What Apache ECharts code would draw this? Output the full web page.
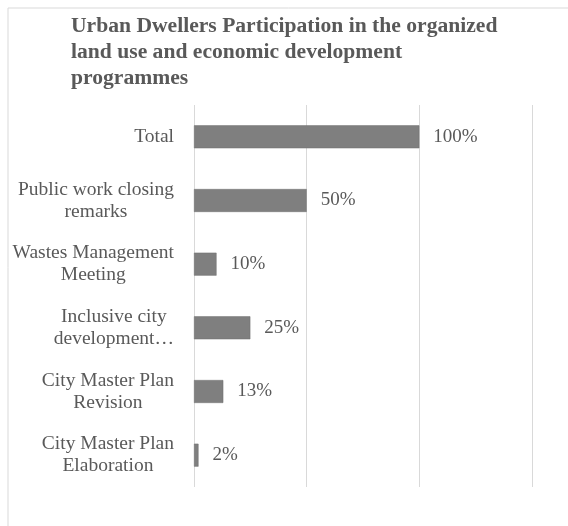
<!DOCTYPE html>
<html>
<head>
<meta charset="utf-8">
<script src="https://cdn.jsdelivr.net/npm/echarts@6/dist/echarts.min.js"></script>
<style>
  html, body { margin: 0; padding: 0; background: #fff; }
  #chart { width: 568px; height: 526px; }
</style>
</head>
<body>
<div id="chart"></div>
<script>
// Participation share per programme, top to bottom
const categories = [
  'Total',
  'Public work closing\nremarks',
  'Wastes Management\nMeeting',
  'Inclusive city\ndevelopment\u2026',
  'City Master Plan\nRevision',
  'City Master Plan\nElaboration'
];
const participation = [100, 50, 10, 25, 13, 2];

const serif = '"Liberation Serif", "DejaVu Serif", serif';
const chart = echarts.init(document.getElementById('chart'));

chart.setOption({
  animation: false,
  backgroundColor: '#ffffff',
  title: {
    text: 'Urban Dwellers Participation in the organized\nland use and economic development\nprogrammes',
    left: 71,
    top: 13,
    padding: 0,
    textStyle: {
      fontFamily: serif,
      fontWeight: 'bold',
      fontSize: 21.6,
      lineHeight: 26,
      color: '#595959'
    }
  },
  graphic: [{
    type: 'rect',
    shape: { x: 8, y: 8, width: 620, height: 600 },
    style: { fill: 'none', stroke: '#d9d9d9', lineWidth: 1 },
    silent: true
  }],
  grid: { left: 194, right: 36, top: 105, bottom: 39, containLabel: false },
  xAxis: {
    type: 'value',
    min: 0,
    max: 150,
    interval: 50,
    axisLabel: { show: false },
    axisLine: { show: false },
    axisTick: { show: false },
    splitLine: { show: true, lineStyle: { color: '#d9d9d9', width: 1 } }
  },
  yAxis: {
    type: 'category',
    inverse: true,
    data: categories,
    axisLine: { show: false },
    axisTick: { show: false },
    axisLabel: {
      margin: 20,
      align: 'right',
      fontFamily: serif,
      fontSize: 19.5,
      lineHeight: 22,
      color: '#595959',
      // each line centred within the right-aligned label block
      formatter: v => v.split('\n').map(s => '{c|' + s + '}').join('\n'),
      rich: {
        c: { align: 'center', fontFamily: serif, fontSize: 19.5, lineHeight: 22, color: '#595959' }
      }
    }
  },
  series: [{
    type: 'bar',
    data: participation,
    barWidth: '36%',
    itemStyle: { color: '#7f7f7f', borderColor: '#6f6f6f', borderWidth: 0.5 },
    label: {
      show: true,
      position: 'right',
      distance: 14,
      formatter: p => p.value + '%',
      fontFamily: serif,
      fontSize: 19,
      color: '#595959'
    }
  }]
});
</script>
</body>
</html>
